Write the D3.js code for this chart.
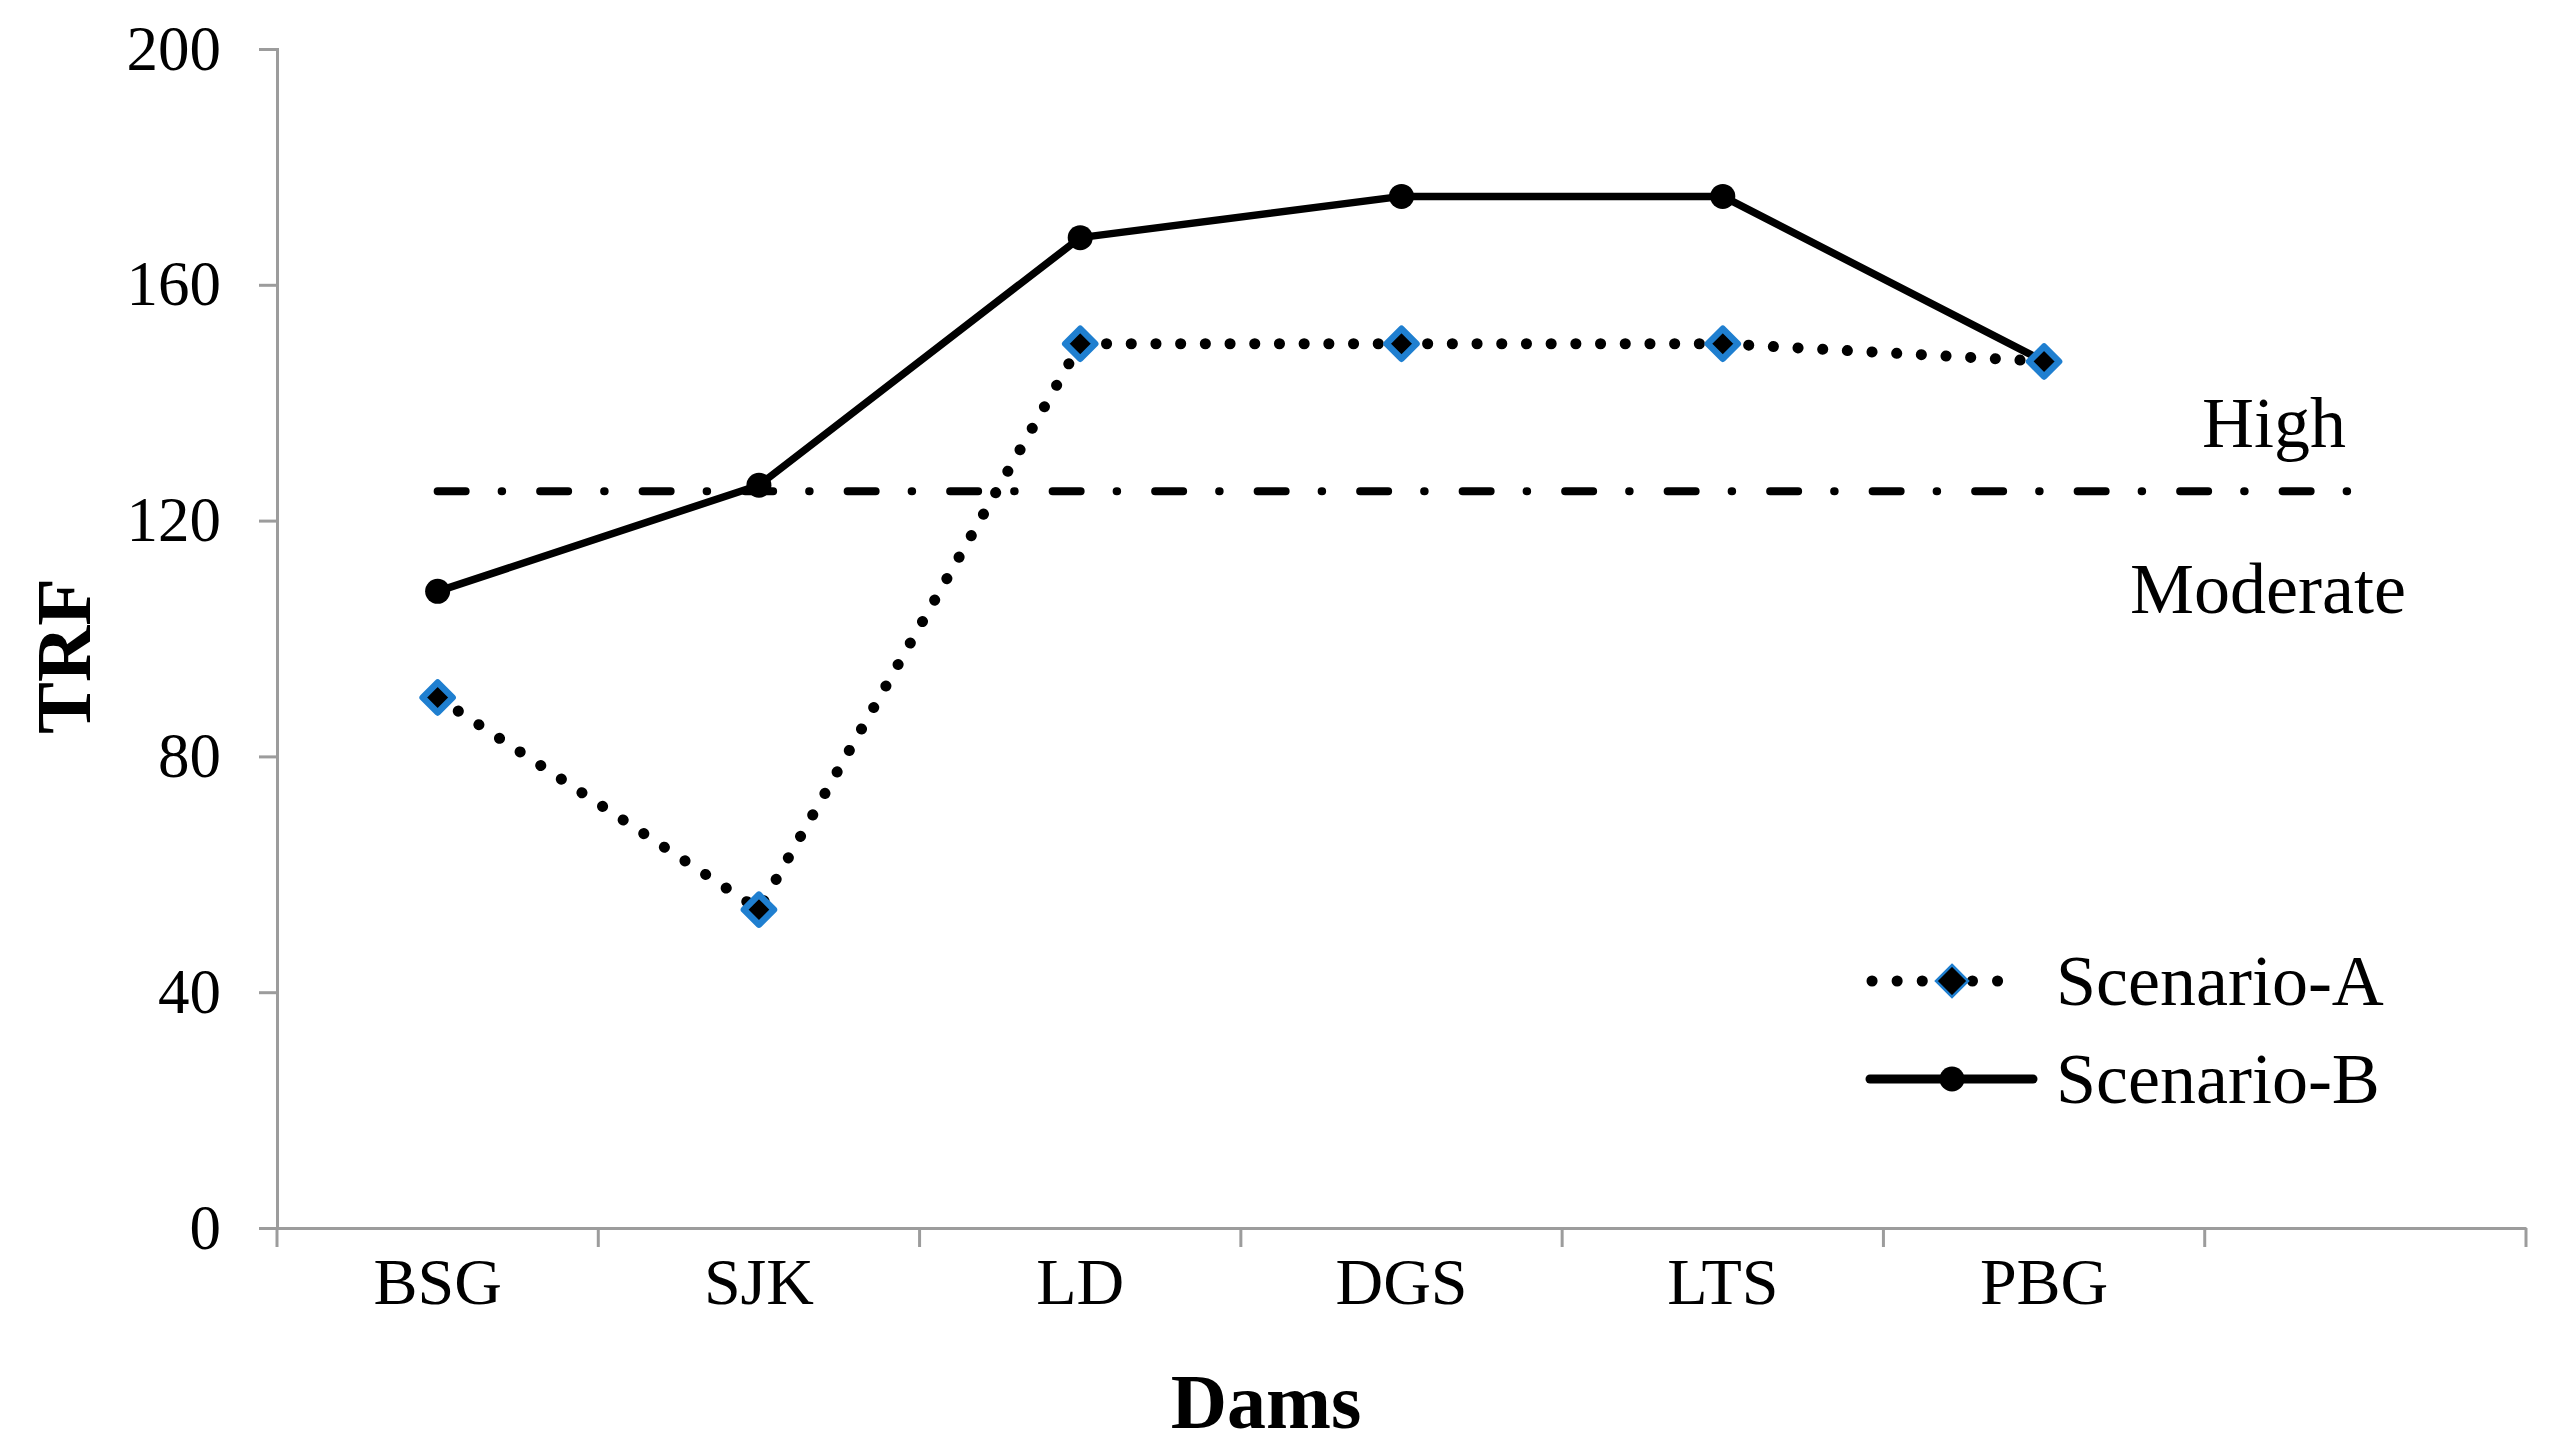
<!DOCTYPE html>
<html>
<head>
<meta charset="utf-8">
<script src="https://cdn.jsdelivr.net/npm/d3@7/dist/d3.min.js"></script>
<style>
  html, body { margin: 0; padding: 0; background: #fff; }
  svg { display: block; }
  text { font-family: "Liberation Serif", "Times New Roman", serif; fill: #000; }
</style>
</head>
<body>
<svg id="chart" width="2559" height="1455"></svg>
<script>
// ---- data ----
const categories = ["BSG", "SJK", "LD", "DGS", "LTS", "PBG"];
const slots = ["BSG", "SJK", "LD", "DGS", "LTS", "PBG", "_empty"];
const scenarioA = [90, 54, 150, 150, 150, 147];
const scenarioB = [108, 126, 168, 175, 175, 147];
const threshold = 125;
const yTicks = [0, 40, 80, 120, 160, 200];
const seriesNames = ["Scenario-A", "Scenario-B"];
const zoneLabels = ["High", "Moderate"];

// ---- layout ----
const plotLeft = 277, plotRight = 2526, plotTop = 49, plotBottom = 1228;
const svg = d3.select("#chart");

const x = d3.scaleBand().domain(slots).range([plotLeft, plotRight]);
const y = d3.scaleLinear().domain([0, 200]).range([plotBottom, plotTop]);
const cx = c => x(c) + x.bandwidth() / 2;

const axisColor = "#9c9c9c";

// y axis
const yAxis = svg.append("g").attr("transform", `translate(${plotLeft},0)`)
  .call(d3.axisLeft(y).tickValues(yTicks).tickSize(18).tickPadding(38).tickFormat(d3.format("d")));
yAxis.select(".domain").attr("stroke", axisColor).attr("stroke-width", 3);
yAxis.selectAll(".tick line").attr("stroke", axisColor).attr("stroke-width", 3);
yAxis.selectAll(".tick text").style("font-size", "63px").attr("fill", "#000")
  .style("font-family", '"Liberation Serif", serif');

// x axis
const xAxis = svg.append("g").attr("transform", `translate(0,${plotBottom})`)
  .call(d3.axisBottom(x).tickSize(0).tickPadding(29).tickFormat(d => categories.includes(d) ? d : ""));
xAxis.select(".domain").attr("stroke", axisColor).attr("stroke-width", 3);
xAxis.selectAll(".tick text").style("font-size", "66px").attr("fill", "#000").attr("dy", "0.71em")
  .style("font-family", '"Liberation Serif", serif');
// band boundary ticks
const bounds = slots.map(s => x(s)).concat([x(slots[slots.length - 1]) + x.bandwidth()]);
xAxis.selectAll("line.bt").data(bounds).enter().append("line").attr("class", "bt")
  .attr("x1", d => d).attr("x2", d => d).attr("y1", 0).attr("y2", 19)
  .attr("stroke", axisColor).attr("stroke-width", 3);

// threshold dash-dot line
svg.append("line")
  .attr("x1", cx("BSG")).attr("x2", 2350)
  .attr("y1", y(threshold)).attr("y2", y(threshold))
  .attr("stroke", "#000").attr("stroke-width", 8)
  .attr("stroke-linecap", "round")
  .attr("stroke-dasharray", "28 36 0.5 38");

// zone labels
svg.append("text").attr("x", 2274).attr("y", 447).attr("text-anchor", "middle")
  .style("font-size", "72px").text(zoneLabels[0]);
svg.append("text").attr("x", 2268).attr("y", 613).attr("text-anchor", "middle")
  .style("font-size", "72px").text(zoneLabels[1]);

const line = d3.line().x((d, i) => cx(categories[i])).y(d => y(d));

// Scenario-B (solid)
svg.append("path").datum(scenarioB).attr("d", line)
  .attr("fill", "none").attr("stroke", "#000").attr("stroke-width", 7.5).attr("stroke-linejoin", "round");
svg.selectAll("circle.b").data(scenarioB).enter().append("circle").attr("class", "b")
  .attr("cx", (d, i) => cx(categories[i])).attr("cy", d => y(d)).attr("r", 12.5).attr("fill", "#000");

// Scenario-A (dotted)
svg.append("path").datum(scenarioA).attr("d", line)
  .attr("fill", "none").attr("stroke", "#000").attr("stroke-width", 11)
  .attr("stroke-linecap", "round").attr("stroke-dasharray", "0.1 24.6");
const diamond = s => `M0,${-s} L${s},0 L0,${s} L${-s},0 Z`;
svg.selectAll("path.a").data(scenarioA).enter().append("path").attr("class", "a")
  .attr("transform", (d, i) => `translate(${cx(categories[i])},${y(d)})`)
  .attr("d", diamond(15)).attr("fill", "#000").attr("stroke", "#1f7fd0").attr("stroke-width", 6.5)
  .attr("stroke-linejoin", "round");

// legend
const lg = svg.append("g");
const ly = [981, 1079];
lg.append("line").attr("x1", 1872).attr("x2", 2022).attr("y1", ly[0]).attr("y2", ly[0])
  .attr("stroke", "#000").attr("stroke-width", 11).attr("stroke-linecap", "round").attr("stroke-dasharray", "0.1 25");
lg.append("path").attr("transform", `translate(1952,${ly[0]})`).attr("d", diamond(16))
  .attr("fill", "#000").attr("stroke", "#1f7fd0").attr("stroke-width", 2.5);
lg.append("line").attr("x1", 1870).attr("x2", 2033).attr("y1", ly[1]).attr("y2", ly[1])
  .attr("stroke", "#000").attr("stroke-width", 9).attr("stroke-linecap", "round");
lg.append("circle").attr("cx", 1952).attr("cy", ly[1]).attr("r", 12.5).attr("fill", "#000");
lg.selectAll("text").data(seriesNames).enter().append("text")
  .attr("x", 2056).attr("y", (d, i) => ly[i] + 24).style("font-size", "72px").text(d => d);

// axis titles
svg.append("text").attr("x", 1266).attr("y", 1428).attr("text-anchor", "middle")
  .style("font-size", "78px").style("font-weight", "bold").text("Dams");
svg.append("text").attr("transform", "translate(90,656) rotate(-90)").attr("text-anchor", "middle")
  .style("font-size", "78px").style("font-weight", "bold").text("TRF");
</script>
</body>
</html>
